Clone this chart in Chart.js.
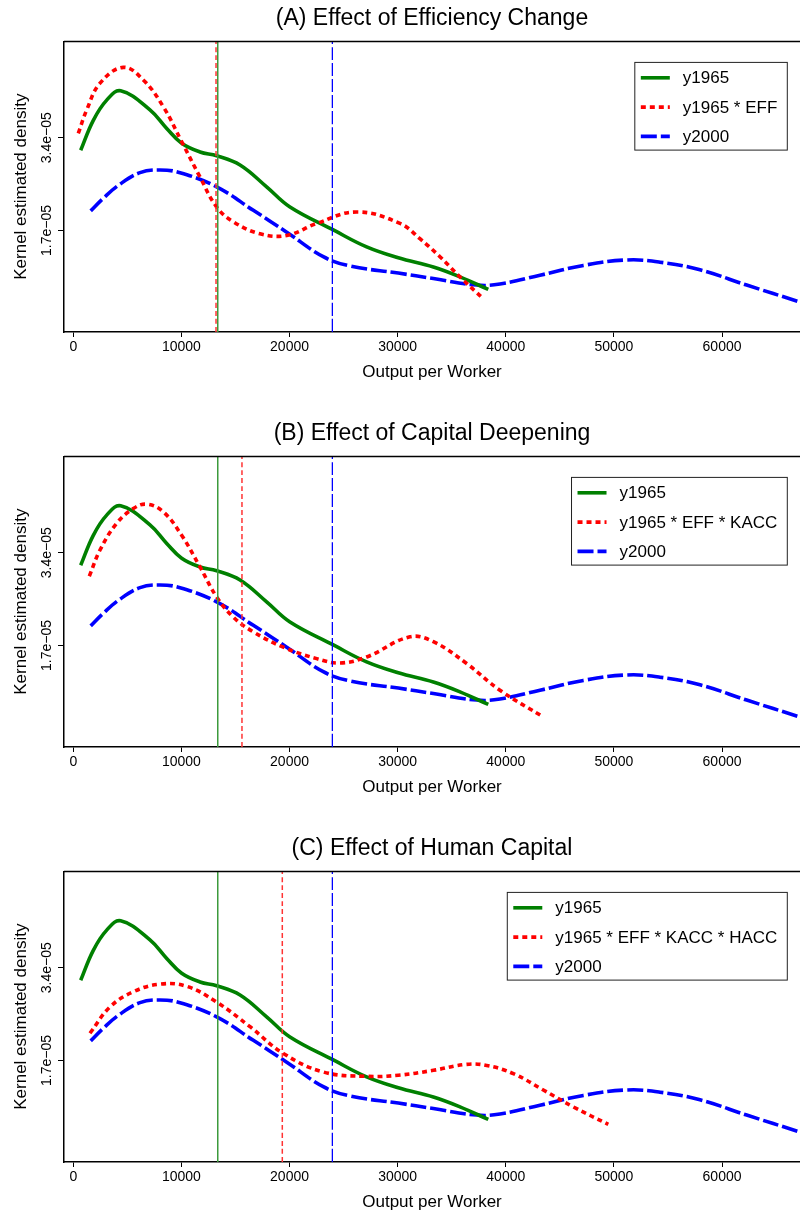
<!DOCTYPE html>
<html><head><meta charset="utf-8">
<script src="https://cdn.jsdelivr.net/npm/chart.js@4.4.1/dist/chart.umd.min.js"></script>
<style>
html,body{margin:0;padding:0;background:#fff;overflow:hidden;width:800px;height:1211px;}
.panel{position:absolute;left:0;width:800px;height:415px;}
canvas{display:block;}
</style></head><body>
<div class="panel" style="top:0"><canvas id="cA" width="800" height="415"></canvas></div>
<div class="panel" style="top:415px"><canvas id="cB" width="800" height="415"></canvas></div>
<div class="panel" style="top:830px"><canvas id="cC" width="800" height="415"></canvas></div>
<script>
// ---------- labels ----------
const panelTitles = ['(A) Effect of Efficiency Change', '(B) Effect of Capital Deepening', '(C) Effect of Human Capital'];
const counterfactualLabels = ['y1965 * EFF', 'y1965 * EFF * KACC', 'y1965 * EFF * KACC * HACC'];
const xAxisTitle = 'Output per Worker';
const yAxisTitle = 'Kernel estimated density';
const xTicks = [0, 10000, 20000, 30000, 40000, 50000, 60000];
const yTicks = [1.7e-5, 3.4e-5];
const yTickLabels = ['1.7e\u221205', '3.4e\u221205'];

// ---------- y1965 density ----------
const y1965X = [684, 1850, 3090, 4380, 7090, 8640, 10020, 11720, 13260, 15420, 17880, 20040, 24050, 27130, 30060, 33300, 35760, 38380];
const y1965D = [3.17e-5, 3.72e-5, 4.09e-5, 4.26e-5, 3.91e-5, 3.57e-5, 3.30e-5, 3.14e-5, 3.07e-5, 2.90e-5, 2.50e-5, 2.13e-5, 1.71e-5, 1.40e-5, 1.20e-5, 1.03e-5, 0.85e-5, 0.62e-5];

// ---------- y2000 density ----------
const y2000X = [1610, 2770, 4320, 6170, 8020, 9870, 13260, 16650, 19740, 23120, 25590, 30060, 33300, 37310, 39460, 43160, 47170, 51180, 54260, 57960, 62280, 67200];
const y2000D = [2.06e-5, 2.29e-5, 2.55e-5, 2.76e-5, 2.81e-5, 2.76e-5, 2.50e-5, 2.07e-5, 1.67e-5, 1.22e-5, 1.05e-5, 0.92e-5, 0.82e-5, 0.70e-5, 0.72e-5, 0.88e-5, 1.06e-5, 1.16e-5, 1.12e-5, 0.98e-5, 0.70e-5, 0.39e-5];

// ---------- counterfactual densities ----------
const effX = [460, 1240, 2470, 4620, 6470, 8320, 10020, 11720, 13260, 14800, 17270, 19740, 22510, 26210, 30210, 32060, 33910, 35760, 37920];
const effD = [3.48e-5, 3.91e-5, 4.40e-5, 4.69e-5, 4.46e-5, 3.97e-5, 3.33e-5, 2.68e-5, 2.13e-5, 1.86e-5, 1.64e-5, 1.61e-5, 1.83e-5, 2.04e-5, 1.83e-5, 1.55e-5, 1.22e-5, 0.85e-5, 0.45e-5];

const kaccX = [1480, 2470, 4010, 5550, 6790, 8320, 10020, 11720, 13260, 14800, 16650, 19420, 22510, 24660, 27130, 31140, 33300, 36380, 39460, 43470];
const kaccD = [2.97e-5, 3.45e-5, 3.94e-5, 4.21e-5, 4.29e-5, 4.15e-5, 3.72e-5, 3.14e-5, 2.59e-5, 2.22e-5, 1.95e-5, 1.67e-5, 1.46e-5, 1.38e-5, 1.49e-5, 1.86e-5, 1.77e-5, 1.37e-5, 0.88e-5, 0.39e-5];

const haccX = [1540, 3390, 5550, 8020, 10490, 13260, 16340, 19420, 23120, 27130, 30060, 33300, 36380, 38230, 40700, 43470, 46240, 49480];
const haccD = [2.20e-5, 2.68e-5, 2.96e-5, 3.10e-5, 3.06e-5, 2.77e-5, 2.32e-5, 1.83e-5, 1.49e-5, 1.41e-5, 1.43e-5, 1.52e-5, 1.63e-5, 1.61e-5, 1.46e-5, 1.16e-5, 0.85e-5, 0.53e-5];

// ---------- means (vertical reference lines) ----------
const meanY1965 = 13360;
const meanY2000 = 23960;
const counterfactualMeans = [13200, 15600, 19330];

// ---------- axis ranges ----------
const xMin = -860, xMax = 67210;
const yMin = -0.16e-5, yMax = 5.166e-5;

const cfX = [effX, kaccX, haccX];
const cfD = [effD, kaccD, haccD];

Chart.defaults.font.family = '"Liberation Sans", Arial, Helvetica, sans-serif';
Chart.defaults.color = '#000';

const GREEN = '#008000', RED = '#ff0000', BLUE = '#0000ff';

function pts(xs, ds) { return xs.map((x, i) => ({x: x, y: ds[i]})); }
function vline(v) { return [{x: v, y: yMin}, {x: v, y: yMax}]; }

const frameAndLegend = {
  id: 'frameAndLegend',
  afterDraw(chart) {
    const ctx = chart.ctx, a = chart.chartArea;
    ctx.save();
    ctx.strokeStyle = '#000'; ctx.lineWidth = 1.5;
    ctx.beginPath(); ctx.moveTo(a.left, a.top); ctx.lineTo(a.right, a.top); ctx.stroke();
    const items = chart.data.datasets.filter(d => d.legendRank !== undefined)
      .sort((p, q) => p.legendRank - q.legendRank);
    ctx.font = '17px "Liberation Sans", Arial, sans-serif';
    const tw = Math.max(...items.map(d => ctx.measureText(d.label).width));
    const right = a.right - 12.7, top = a.top + 21, rowH = 29.3;
    const w = 6 + 29 + 13 + tw + 10, h = 87.7;
    const left = right - w;
    ctx.fillStyle = '#fff'; ctx.fillRect(left, top, w, h);
    ctx.strokeStyle = '#222'; ctx.lineWidth = 1; ctx.strokeRect(left, top, w, h);
    items.forEach((d, i) => {
      const y = top + 15.4 + i * rowH;
      ctx.strokeStyle = d.borderColor; ctx.lineWidth = d.borderWidth;
      ctx.setLineDash(d.borderDash || []);
      ctx.beginPath(); ctx.moveTo(left + 6, y); ctx.lineTo(left + 35, y); ctx.stroke();
      ctx.setLineDash([]);
      ctx.fillStyle = '#000'; ctx.textBaseline = 'middle'; ctx.textAlign = 'left';
      ctx.fillText(d.label, left + 48, y + 1);
    });
    ctx.restore();
  }
};

function makeChart(id, k) {
  const lineBase = {pointRadius: 0, fill: false, tension: 0.4, clip: 0, borderCapStyle: 'butt'};
  new Chart(document.getElementById(id), {
    type: 'line',
    data: {
      datasets: [
        Object.assign({}, lineBase, {label: 'mean y1965', data: vline(meanY1965), borderColor: '#3c9a3c', borderWidth: 1.5, order: 0}),
        Object.assign({}, lineBase, {label: 'mean cf', data: vline(counterfactualMeans[k]), borderColor: '#ff3333', borderWidth: 1.5, borderDash: [5, 3], order: 0}),
        Object.assign({}, lineBase, {label: 'mean y2000', data: vline(meanY2000), borderColor: '#0000ff', borderWidth: 1.3, borderDash: [13, 3], order: 0}),
        Object.assign({}, lineBase, {label: counterfactualLabels[k], data: pts(cfX[k], cfD[k]), borderColor: RED, borderWidth: 3.6, borderDash: [5, 4], order: 1, legendRank: 1}),
        Object.assign({}, lineBase, {label: 'y1965', data: pts(y1965X, y1965D), borderColor: GREEN, borderWidth: 3.6, order: 2, legendRank: 0}),
        Object.assign({}, lineBase, {label: 'y2000', data: pts(y2000X, y2000D), borderColor: BLUE, borderWidth: 3.6, borderDash: [16, 4], order: 3, legendRank: 2})
      ]
    },
    options: {
      responsive: false,
      animation: false,
      layout: {padding: 0},
      plugins: {
        legend: {display: false},
        tooltip: {enabled: false},
        title: {display: true, text: panelTitles[k], fullSize: false, color: '#000',
                font: {size: 23, weight: 'normal'}, padding: {top: 5, bottom: 8.8}}
      },
      scales: {
        x: {
          type: 'linear', min: xMin, max: xMax,
          afterBuildTicks: s => { s.ticks = xTicks.map(v => ({value: v})); },
          afterFit: s => { s.height = 83; },
          ticks: {font: {size: 14}, color: '#000', padding: 2, maxRotation: 0, minRotation: 0, autoSkip: false,
                  callback: v => String(v)},
          grid: {drawOnChartArea: false, drawTicks: true, tickLength: 5, color: '#000', tickWidth: 1},
          border: {display: true, color: '#000', width: 1.5},
          title: {display: true, text: xAxisTitle, color: '#000', font: {size: 17}, padding: {top: 0, bottom: 32.8}}
        },
        y: {
          type: 'linear', min: yMin, max: yMax,
          afterBuildTicks: s => { s.ticks = yTicks.map(v => ({value: v})); },
          afterFit: s => { s.width = 64; },
          ticks: {font: {size: 14}, color: '#000', minRotation: 90, maxRotation: 90, crossAlign: 'center', padding: -14.2,
                  callback: v => yTickLabels[yTicks.indexOf(v)]},
          grid: {drawOnChartArea: false, drawTicks: true, tickLength: 6, color: '#000', tickWidth: 1},
          border: {display: true, color: '#000', width: 1.5},
          title: {display: true, text: yAxisTitle, color: '#000', font: {size: 17}, padding: {top: 11.5, bottom: 0}}
        }
      }
    },
    plugins: [frameAndLegend]
  });
}

makeChart('cA', 0);
makeChart('cB', 1);
makeChart('cC', 2);
</script>
</body></html>
